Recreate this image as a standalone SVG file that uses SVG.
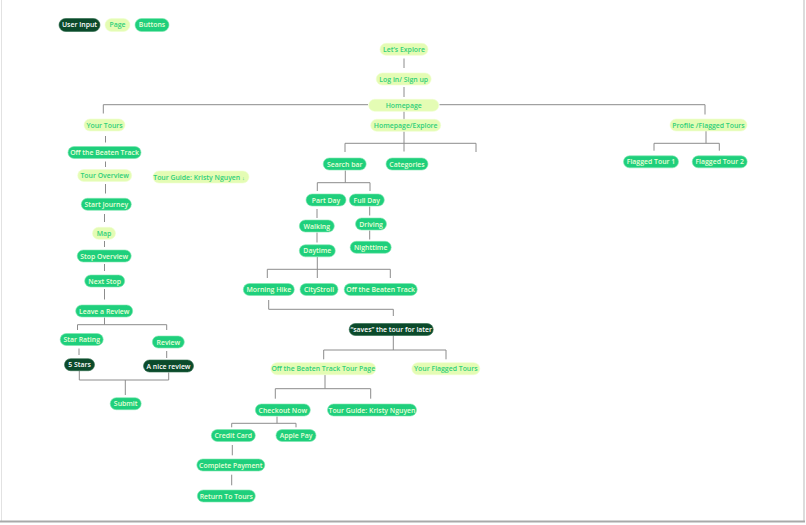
<svg xmlns="http://www.w3.org/2000/svg" width="806" height="525" viewBox="0 0 806 525">
<style>
.page rect{fill:#e4fcb4;stroke:#f0ffd0;stroke-width:0.6}
.page text{fill:#2fcf78}
.btn rect{fill:#1fcf7c;stroke:#7fe8b0;stroke-width:0.6}
.btn text{fill:#e8ffd8}
.dark rect{fill:#0b4a2b;stroke:#2a6a48;stroke-width:0.6}
.dark text{fill:#ffffff}
text{font-family:"Open Sans","Noto Sans",sans-serif;font-weight:600;font-size:6.9px;text-anchor:middle}
#connectors path{fill:none;stroke:#8c8c8c;stroke-width:1}
</style>
<rect x="0" y="0" width="806" height="525" fill="#ffffff"/>
<g id="frame">
<line x1="1.5" y1="0" x2="1.5" y2="521" stroke="#e2e2e2" stroke-width="1"/>
<line x1="804" y1="0" x2="804" y2="522" stroke="#d0d0d0" stroke-width="1.5"/>
<line x1="0" y1="521.5" x2="805" y2="521.5" stroke="#a9a9a9" stroke-width="2"/>
</g>
<g id="connectors">
<path d="M105.5 136V142.5"/>
<path d="M105.5 161.5V167"/>
<path d="M105.5 184V193.5"/>
<path d="M104.5 214V222"/>
<path d="M104.5 241V247"/>
<path d="M104.5 264V271"/>
<path d="M104.5 289V299.5"/>
<path d="M104.5 317.5V324.7"/>
<path d="M77.5 330V324.7H166.7V330"/>
<path d="M79 348.5V355"/>
<path d="M166.7 351V358"/>
<path d="M79.3 371V380H168.7V372.5"/>
<path d="M125.3 380V395"/>
<path d="M404 58.5V68"/>
<path d="M404 87V97"/>
<path d="M103.3 113.5V104.7H368"/>
<path d="M439.5 104.7H705V114.5"/>
<path d="M404 111.5V119.5"/>
<path d="M404 131.5V151.5"/>
<path d="M345 152V143.3H476V152"/>
<path d="M345.3 170.5V182.7"/>
<path d="M317.3 191V182.7H370V191"/>
<path d="M317 209V218"/>
<path d="M369.7 206.5V215.5"/>
<path d="M369.7 230.5V239.5"/>
<path d="M317 232.5V242.5"/>
<path d="M317.3 257V278"/>
<path d="M267.3 278V269.3H390.3V278"/>
<path d="M268.7 300V309.3H393.3V316"/>
<path d="M393.3 335.5V350"/>
<path d="M323.7 359.3V350H446V359.3"/>
<path d="M325 374.8V388.7"/>
<path d="M275.3 398.7V388.7H370.7V398.7"/>
<path d="M277 416.5V423.3"/>
<path d="M231.7 427.3V423.3H296V427.3"/>
<path d="M232.3 445V455.3"/>
<path d="M231.7 474.7V485.3"/>
<path d="M706 131V143.3"/>
<path d="M654 150.7V143.3H719.3V150.7"/>
</g>
<g id="legend-user-input" class="dark"><rect x="59" y="18.5" width="41" height="13" rx="6.5"/><text x="79.5" y="27.4">User Input</text></g>
<g id="legend-page" class="page"><rect x="105" y="18.5" width="25" height="13" rx="6.5"/><text x="117.5" y="27.4">Page</text></g>
<g id="legend-buttons" class="btn"><rect x="135" y="18.5" width="34" height="13" rx="6.5"/><text x="152" y="27.4">Buttons</text></g>

<g id="lets-explore" class="page"><rect x="380" y="43.3" width="48" height="12" rx="6"/><text x="404" y="51.8">Let’s Explore</text></g>
<g id="login" class="page"><rect x="376.2" y="73" width="55" height="12" rx="6"/><text x="403.7" y="81.5">Log in/ Sign up</text></g>
<g id="homepage" class="page"><rect x="368.7" y="99.3" width="70" height="12" rx="6"/><text x="403.7" y="107.8">Homepage</text></g>
<g id="homepage-explore" class="page"><rect x="370.7" y="119.3" width="70" height="12" rx="6"/><text x="405.7" y="127.8">Homepage/Explore</text></g>
<g id="search-bar" class="btn"><rect x="323.2" y="158" width="43" height="12" rx="6"/><text x="344.7" y="166.5">Search bar</text></g>
<g id="categories" class="btn"><rect x="386" y="158" width="42" height="12" rx="6"/><text x="407" y="166.5">Categories</text></g>
<g id="part-day" class="btn"><rect x="306" y="194" width="40" height="12" rx="6"/><text x="326" y="202.5">Part Day</text></g>
<g id="full-day" class="btn"><rect x="349.3" y="194" width="35" height="12" rx="6"/><text x="366.8" y="202.5">Full Day</text></g>
<g id="walking" class="btn"><rect x="299.3" y="220" width="35" height="12" rx="6"/><text x="316.8" y="228.5">Walking</text></g>
<g id="driving" class="btn"><rect x="355.5" y="218" width="31" height="12" rx="6"/><text x="371" y="226.5">Driving</text></g>
<g id="nighttime" class="btn"><rect x="350.2" y="241.3" width="41" height="12" rx="6"/><text x="370.7" y="249.8">Nighttime</text></g>
<g id="daytime" class="btn"><rect x="299.3" y="244.8" width="36" height="12" rx="6"/><text x="317.3" y="253.3">Daytime</text></g>
<g id="morning-hike" class="btn"><rect x="243.3" y="283.5" width="51" height="12" rx="6"/><text x="268.8" y="292">Morning Hike</text></g>
<g id="citystroll" class="btn"><rect x="300" y="283.5" width="38" height="12" rx="6"/><text x="319" y="292">CityStroll</text></g>
<g id="off-beaten-track-2" class="btn"><rect x="344.2" y="283.5" width="73" height="12" rx="6"/><text x="380.7" y="292">Off the Beaten Track</text></g>
<g id="saves" class="dark"><rect x="349.2" y="323.5" width="84" height="12" rx="6"/><text x="391.2" y="332">“saves” the tour for later</text></g>
<g id="tour-page" class="page"><rect x="270.8" y="362.7" width="105" height="12" rx="6"/><text x="323.3" y="371.2">Off the Beaten Track Tour Page</text></g>
<g id="your-flagged-tours" class="page"><rect x="411.8" y="362.7" width="68" height="12" rx="6"/><text x="445.8" y="371.2">Your Flagged Tours</text></g>
<g id="checkout-now" class="btn"><rect x="255.3" y="404" width="55" height="12" rx="6"/><text x="282.8" y="412.5">Checkout Now</text></g>
<g id="tour-guide-btn" class="btn"><rect x="327.5" y="404" width="89" height="12" rx="6"/><text x="372" y="412.5">Tour Guide: Kristy Nguyen</text></g>
<g id="credit-card" class="btn"><rect x="211.3" y="429.5" width="44" height="12" rx="6"/><text x="233.3" y="438">Credit Card</text></g>
<g id="apple-pay" class="btn"><rect x="276" y="429.5" width="40" height="12" rx="6"/><text x="296" y="438">Apple Pay</text></g>
<g id="complete-payment" class="btn"><rect x="196.8" y="459" width="68" height="12" rx="6"/><text x="230.8" y="467.5">Complete Payment</text></g>
<g id="return-to-tours" class="btn"><rect x="197.3" y="490" width="58" height="12" rx="6"/><text x="226.3" y="498.5">Return To Tours</text></g>

<g id="your-tours" class="page"><rect x="84" y="119" width="41" height="12" rx="6"/><text x="104.5" y="127.5">Your Tours</text></g>
<g id="off-beaten-track-1" class="btn"><rect x="68" y="146.5" width="73" height="12" rx="6"/><text x="104.5" y="155">Off the Beaten Track</text></g>
<g id="tour-overview" class="page"><rect x="77.7" y="169.5" width="54" height="12" rx="6"/><text x="104.7" y="178">Tour Overview</text></g>
<g id="tour-guide-page" class="page"><rect x="153" y="171" width="96" height="12" rx="6"/><text x="199" y="179.5">Tour Guide: Kristy Nguyen <tspan font-size="5.5px">↓</tspan></text></g>
<g id="start-journey" class="btn"><rect x="81.3" y="198.3" width="50" height="12" rx="6"/><text x="106.3" y="206.8">Start Journey</text></g>
<g id="map" class="page"><rect x="92.5" y="227.3" width="23" height="12" rx="6"/><text x="104" y="235.8">Map</text></g>
<g id="stop-overview" class="btn"><rect x="77.2" y="250" width="54" height="12" rx="6"/><text x="104.2" y="258.5">Stop Overview</text></g>
<g id="next-stop" class="btn"><rect x="84.7" y="275" width="40" height="12" rx="6"/><text x="104.7" y="283.5">Next Stop</text></g>
<g id="leave-review" class="btn"><rect x="75.7" y="305" width="57" height="12" rx="6"/><text x="104.2" y="313.5">Leave a Review</text></g>
<g id="star-rating" class="btn"><rect x="60.2" y="333.5" width="43" height="12" rx="6"/><text x="81.7" y="342">Star Rating</text></g>
<g id="review" class="btn"><rect x="152.3" y="336" width="32" height="12" rx="6"/><text x="168.3" y="344.5">Review</text></g>
<g id="five-stars" class="dark"><rect x="64.5" y="358.7" width="30" height="12" rx="6"/><text x="79.5" y="367.2">5 Stars</text></g>
<g id="nice-review" class="dark"><rect x="143.5" y="360" width="50" height="12" rx="6"/><text x="168.5" y="368.5">A nice review</text></g>
<g id="submit" class="btn"><rect x="110.2" y="397.7" width="31" height="12" rx="6"/><text x="125.7" y="406.2">Submit</text></g>

<g id="profile-flagged" class="page"><rect x="670" y="119" width="77" height="12" rx="6"/><text x="708.5" y="127.5">Profile /Flagged Tours</text></g>
<g id="flagged-tour-1" class="btn"><rect x="623.5" y="155.8" width="55" height="12" rx="6"/><text x="651" y="164.3">Flagged Tour 1</text></g>
<g id="flagged-tour-2" class="btn"><rect x="692.2" y="155.8" width="55" height="12" rx="6"/><text x="719.7" y="164.3">Flagged Tour 2</text></g>
</svg>
